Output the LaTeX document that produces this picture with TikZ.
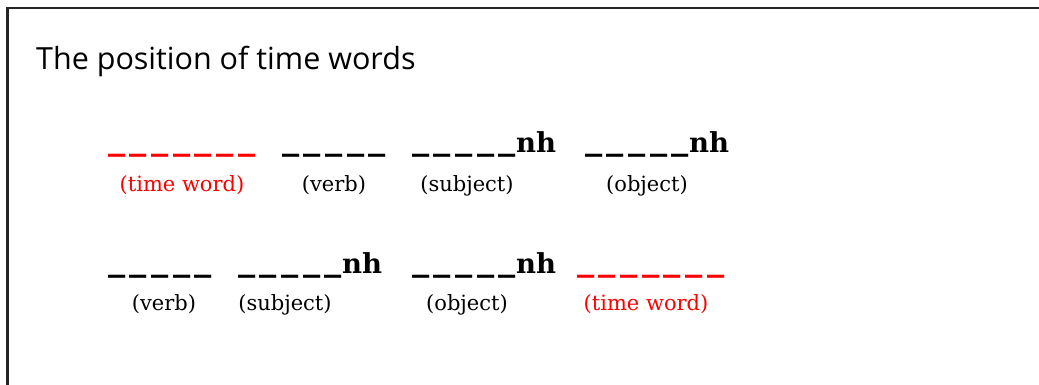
\documentclass[tikz,border=0pt]{standalone}
\usepackage{fontspec}
\setmainfont{DejaVu Serif}
\newfontfamily\titlefont{Open Sans}
\usepackage{graphicx}
\newcommand\dsh{\raisebox{3pt}{\scalebox{1.25}[1.2]{\_}}}
\newcommand\gp{\kern4.5pt}
\tikzset{
  lbl/.style={anchor=base, inner sep=0pt, font=\fontsize{21}{24}\selectfont},
  blk/.style={anchor=base west, inner sep=0pt, font=\fontsize{27.5}{30}\selectfont\bfseries},
  frame/.style={line width=2.8pt, draw=black!85}
}
\begin{document}
\begin{tikzpicture}[x=1pt,y=-1pt]
\useasboundingbox (0,0) rectangle (1039,385);
\draw[frame] (7.5,386) -- (7.5,8) -- (1040,8);
\node[anchor=base west, inner sep=0pt, font=\titlefont\fontsize{30.5}{34}\selectfont] (title) at (36,70) {The position of time words};
% row 1
\node[blk, red] (r1a) at (108,153) {\dsh\gp\dsh\gp\dsh\gp\dsh\gp\dsh\gp\dsh\gp\dsh};
\node[blk] (r1b) at (282,153) {\dsh\gp\dsh\gp\dsh\gp\dsh\gp\dsh};
\node[blk] (r1c) at (412,153) {\dsh\gp\dsh\gp\dsh\gp\dsh\gp\dsh nh};
\node[blk] (r1d) at (585,153) {\dsh\gp\dsh\gp\dsh\gp\dsh\gp\dsh nh};
\node[lbl, red] (l1a) at (182,191) {(time word)};
\node[lbl] (l1b) at (334,191) {(verb)};
\node[lbl] (l1c) at (467,191) {(subject)};
\node[lbl] (l1d) at (647,191) {(object)};
% row 2
\node[blk] (r2a) at (108,273) {\dsh\gp\dsh\gp\dsh\gp\dsh\gp\dsh};
\node[blk] (r2b) at (238,273) {\dsh\gp\dsh\gp\dsh\gp\dsh\gp\dsh nh};
\node[blk] (r2c) at (412,273) {\dsh\gp\dsh\gp\dsh\gp\dsh\gp\dsh nh};
\node[blk, red] (r2d) at (577,273) {\dsh\gp\dsh\gp\dsh\gp\dsh\gp\dsh\gp\dsh\gp\dsh};
\node[lbl] (l2a) at (164,310) {(verb)};
\node[lbl] (l2b) at (285,310) {(subject)};
\node[lbl] (l2c) at (467,310) {(object)};
\node[lbl, red] (l2d) at (646,310) {(time word)};
\end{tikzpicture}
\end{document}
